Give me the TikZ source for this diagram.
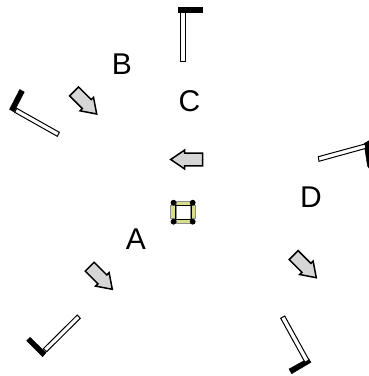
\documentclass[tikz,border=0pt]{standalone}
\usepackage{fontspec}
\setmainfont{Liberation Sans}
\definecolor{paleyellow}{RGB}{216,220,140}
\tikzset{
  lab/.style={font=\fontsize{30}{30}\selectfont, inner sep=0pt},
  blackbar/.style={fill=black, draw=black, line width=0.4pt},
  whitebar/.style={fill=white, draw=black, line width=1pt},
  gray arrow/.style={fill=black!16, draw=black, line width=1.5pt, line join=miter},
  yellowbar/.style={fill=paleyellow, draw=black!45, line width=0.5pt},
  dot/.style={fill=black, draw=none}
}
\newcommand{\bigarrow}[3]{%
  \draw[gray arrow, shift={(#1,#2)}, rotate=#3]
    (0,0) -- (14,9.5) -- (14,6.3) -- (32,6.3) -- (32,-6.3) -- (14,-6.3) -- (14,-9.5) -- cycle;}
\begin{document}
\begin{tikzpicture}[x=1pt,y=-1pt]
\useasboundingbox (0,0) rectangle (369,376);
\clip (0,0) rectangle (369,376);
% mirror C
\draw[blackbar] (178,7) rectangle (201.7,12);
\draw[whitebar] (180.5,12.5) rectangle (185,61);
% mirror B
\draw[blackbar] (19.7,89.5) -- (24.3,92) -- (14,112) -- (9.5,109.3) -- cycle;
\draw[whitebar] (16.7,108.3) -- (59.3,132.3) -- (57.3,136.3) -- (14.7,112.3) -- cycle;
% mirror A
\draw[blackbar] (30,337.3) -- (46,352.7) -- (42.7,356.7) -- (26.7,340.7) -- cycle;
\draw[whitebar] (77.3,315) -- (80.3,318.3) -- (46.7,351.7) -- (43.3,348.7) -- cycle;
% mirror D upper
\draw[blackbar] (364,143.5) -- (369,140.7) -- (369,168) -- (367.5,166) -- cycle;
\draw[whitebar] (318.3,156.7) -- (365,144) -- (366,148.3) -- (319,161.3) -- cycle;
% mirror D lower
\draw[blackbar] (289,369) -- (308.3,358.3) -- (311,362.3) -- (291.7,373.7) -- cycle;
\draw[whitebar] (280.7,318.3) -- (284.7,316) -- (309,360) -- (305,362.3) -- cycle;
% arrows
\bigarrow{170.7}{159.5}{0}
\bigarrow{96.7}{114}{135}
\bigarrow{112.3}{289.3}{135}
\bigarrow{316.3}{277.7}{135}
% labels
\node[lab] (a) at (136,239) {A};
\node[lab] (b) at (122,64.5) {B};
\node[lab] (c) at (189.5,101) {C};
\node[lab] (d) at (311,197.5) {D};
% central element
\draw[yellowbar] (176,201) rectangle (190.7,205.7);
\draw[yellowbar] (176,219) rectangle (190.7,223.3);
\draw[yellowbar] (170.7,205) rectangle (176,218.5);
\draw[yellowbar] (190.7,205) rectangle (195.7,218.5);
\draw[black, line width=0.9pt] (175.5,205.4) rectangle (191,219);
\fill[dot] (173.5,202.7) circle (2.9);
\fill[dot] (192.7,202.7) circle (2.9);
\fill[dot] (173.5,221.7) circle (2.9);
\fill[dot] (192.7,221.7) circle (2.9);
\end{tikzpicture}
\end{document}
